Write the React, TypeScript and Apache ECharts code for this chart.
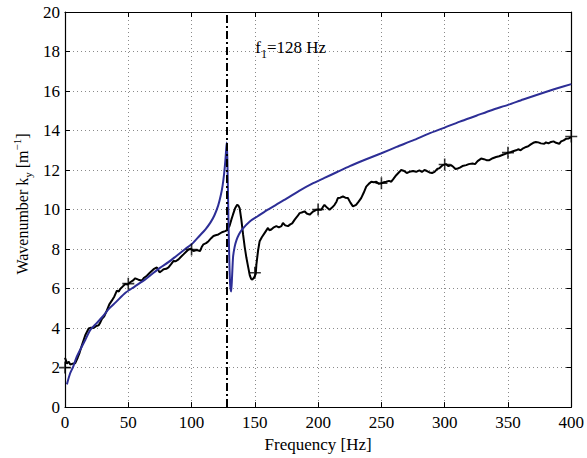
import React, { useEffect, useRef } from "react";
import * as echarts from "echarts";

// Theoretical wavenumber (blue)
const freqTheory = [1.5, 4, 6.5, 9, 12, 16, 20, 25, 30, 35, 40, 48, 55, 62, 68, 75, 82, 88, 95, 101, 106, 111, 115, 118, 121, 123, 124.5, 125.7, 126.6, 127.3, 127.8, 128.3, 129, 129.8, 130.5, 131.3, 132, 132.8, 134, 135.5, 137.5, 140, 146, 152, 159, 167, 175, 185, 195, 205, 215, 225, 237, 250, 262, 275, 287, 300, 312, 325, 337, 350, 362, 375, 387, 400];
const kTheory = [1.15, 1.7, 2.05, 2.5, 2.9, 3.4, 3.9, 4.25, 4.6, 5.0, 5.3, 5.8, 6.1, 6.4, 6.7, 7.05, 7.35, 7.65, 8.0, 8.3, 8.65, 9.0, 9.35, 9.7, 10.2, 10.7, 11.2, 11.8, 12.4, 13.0, 13.4, 12.5, 10.0, 7.5, 6.2, 5.85, 6.6, 7.6, 8.1, 8.45, 8.75, 9.0, 9.4, 9.65, 9.95, 10.25, 10.55, 10.95, 11.3, 11.6, 11.9, 12.2, 12.52, 12.85, 13.17, 13.5, 13.83, 14.15, 14.45, 14.75, 15.03, 15.3, 15.57, 15.85, 16.1, 16.35];

// Measured wavenumber (black)
const freqMeas = [0, 0.8, 1.6, 3, 4.2, 6, 8, 10, 11.5, 13.4, 16, 18.7, 20.5, 22.6, 24.5, 26.6, 28, 29.2, 31, 33.1, 35, 37.1, 39, 41, 42.5, 43.6, 45.5, 47.6, 49.5, 51.5, 53.5, 55.5, 58, 60.8, 62.5, 64.7, 67, 70, 72.6, 74.7, 76.5, 77.9, 80, 81.8, 84, 85.8, 87.5, 89.7, 91.5, 93.6, 95.5, 97.6, 99.5, 101.5, 104, 106.7, 108, 109.4, 111.5, 113.4, 115.5, 117.3, 119, 121.2, 124, 126.5, 128, 129, 130, 131.5, 132.7, 134.3, 136, 137, 138, 139.3, 140.7, 142, 143.3, 144.7, 146, 147, 148, 149.3, 150.7, 151.2, 152.5, 153.8, 155.5, 157.8, 160.4, 161.5, 163, 165, 167, 169, 171, 172.2, 174, 176.2, 178, 179.5, 181.5, 183.5, 185.4, 187, 189.3, 191, 193.3, 196, 198.6, 200.5, 202.5, 204, 205, 207, 209, 211, 213, 214.5, 215.6, 217.5, 219.6, 221.5, 223.5, 225.5, 227.5, 230, 232, 234, 236, 238, 240, 242, 244, 246, 248, 250, 252, 253.8, 256, 257.8, 259.5, 261.7, 264.3, 265.6, 268, 270, 272.2, 275, 277.5, 280, 282, 284, 286, 288, 290, 292, 294, 296, 298.5, 301, 303, 305, 307, 308.5, 310.3, 312, 314, 317, 319, 322, 324, 326, 328.8, 331, 333, 335.3, 338, 340.6, 343, 345, 348.5, 350, 352, 354, 356.4, 358, 360, 362, 364.3, 366, 368, 370, 372, 374, 376, 378.7, 380, 382, 384, 386, 388, 390.5, 392, 394, 395.8, 398, 400];
const kMeas = [2.5, 2.35, 2.2, 2.3, 2.15, 2.2, 2.22, 2.5, 2.75, 3.14, 3.64, 3.98, 4.02, 4.0, 4.1, 4.14, 4.3, 4.47, 4.6, 4.9, 5.2, 5.4, 5.6, 5.9, 5.85, 5.98, 6.1, 6.23, 6.2, 6.32, 6.4, 6.52, 6.45, 6.4, 6.55, 6.65, 6.8, 6.98, 7.07, 6.82, 6.9, 6.98, 7.0, 7.07, 7.25, 7.4, 7.38, 7.48, 7.6, 7.73, 7.85, 7.98, 8.02, 7.9, 7.95, 7.9, 8.1, 8.24, 8.3, 8.4, 8.55, 8.66, 8.7, 8.74, 8.85, 8.91, 8.95, 9.07, 9.17, 9.5, 9.74, 10.05, 10.24, 10.2, 10.07, 9.5, 8.74, 8.1, 7.57, 7.1, 6.67, 6.5, 6.45, 6.55, 6.73, 7.2, 7.9, 8.4, 8.6, 8.82, 9.07, 8.95, 8.99, 9.1, 9.16, 9.1, 9.16, 9.32, 9.2, 9.16, 9.25, 9.3, 9.49, 9.65, 9.82, 9.85, 9.91, 9.8, 9.74, 9.9, 9.99, 10.0, 9.99, 10.15, 10.24, 10.1, 9.99, 10.1, 10.24, 10.4, 10.58, 10.6, 10.66, 10.6, 10.58, 10.35, 10.16, 10.24, 10.4, 10.58, 10.85, 11.16, 11.3, 11.41, 11.38, 11.41, 11.3, 11.33, 11.38, 11.41, 11.45, 11.41, 11.55, 11.74, 11.91, 12.0, 11.95, 11.85, 11.91, 11.95, 11.91, 11.98, 11.9, 12.0, 11.95, 11.88, 11.85, 11.91, 12.05, 12.1, 12.25, 12.3, 12.2, 12.25, 12.15, 12.05, 12.08, 12.12, 12.2, 12.25, 12.3, 12.33, 12.3, 12.45, 12.58, 12.55, 12.5, 12.5, 12.6, 12.66, 12.7, 12.75, 12.83, 12.88, 12.9, 12.95, 13.0, 13.05, 13.0, 13.1, 13.17, 13.2, 13.3, 13.38, 13.42, 13.4, 13.35, 13.33, 13.4, 13.35, 13.42, 13.45, 13.38, 13.33, 13.45, 13.5, 13.58, 13.6, 13.67];

// "+" markers on the measured curve
const markerFreq = [0, 50, 100, 150, 200, 250, 300, 350, 400];
const markerK = [2.0, 6.25, 7.98, 6.8, 10.0, 11.33, 12.28, 12.88, 13.7];

// Resonance line
const resonanceFreq = 128;
const xTicks = { min: 0, max: 400, interval: 50 };
const yTicks = { min: 0, max: 20, interval: 2 };

const FONT = "'Liberation Serif', 'Times New Roman', serif";

export default function App() {
  const ref = useRef<HTMLDivElement>(null);
  useEffect(() => {
    if (!ref.current) return;
    const chart = echarts.init(ref.current, undefined, { renderer: "svg" });
    const axisCommon = {
      axisLine: { show: true, onZero: false, lineStyle: { color: "#000", width: 1.2 } },
      axisTick: { show: true, inside: true, length: 5, lineStyle: { color: "#000", width: 1 } },
    };
    const splitLine = { show: true, lineStyle: { color: "#8a8a8a", width: 1, type: [1, 3] } };
    const option: any = {
      animation: false,
      backgroundColor: "#fff",
      grid: { left: 65, right: 15, top: 12, bottom: 47, containLabel: false },
      xAxis: [
        {
          type: "value",
          position: "bottom",
          ...xTicks,
          ...axisCommon,
          splitLine,
          axisLabel: { color: "#000", fontFamily: FONT, fontSize: 17, margin: 7 },
          name: "Frequency [Hz]",
          nameLocation: "middle",
          nameGap: 21,
          nameTextStyle: { color: "#000", fontFamily: FONT, fontSize: 17, verticalAlign: "top" },
        },
        {
          type: "value",
          position: "top",
          ...xTicks,
          ...axisCommon,
          splitLine: { show: false },
          axisLabel: { show: false },
        },
      ],
      yAxis: [
        {
          type: "value",
          position: "left",
          ...yTicks,
          ...axisCommon,
          splitLine,
          axisLabel: { color: "#000", fontFamily: FONT, fontSize: 17, margin: 5 },
        },
        {
          type: "value",
          position: "right",
          ...yTicks,
          ...axisCommon,
          splitLine: { show: false },
          axisLabel: { show: false },
        },
      ],
      graphic: [
        {
          type: "text",
          x: 22,
          y: 204,
          rotation: Math.PI / 2,
          style: {
            text: "{m|Wavenumber k}{s|y}{m| [m}{p|−1}{m|]}",
            align: "center",
            verticalAlign: "middle",
            fill: "#000",
            rich: {
              m: { fontFamily: FONT, fontSize: 16, lineHeight: 22, verticalAlign: "middle", fill: "#000" },
              s: { fontFamily: FONT, fontSize: 11, verticalAlign: "bottom", fill: "#000" },
              p: { fontFamily: FONT, fontSize: 11, verticalAlign: "top", fill: "#000" },
            },
          },
        },
      ],
      series: [
        {
          type: "line",
          name: "measured",
          data: freqMeas.map((f, i) => [f, kMeas[i]]),
          showSymbol: false,
          symbol: "none",
          lineStyle: { color: "#000", width: 2 },
          z: 3,
        },
        {
          type: "line",
          name: "theory",
          data: freqTheory.map((f, i) => [f, kTheory[i]]),
          showSymbol: false,
          symbol: "none",
          smooth: 0.25,
          lineStyle: { color: "#2d2e96", width: 2 },
          z: 4,
        },
        {
          type: "line",
          name: "resonance",
          data: [
            [resonanceFreq, yTicks.min],
            [resonanceFreq, yTicks.max],
          ],
          symbol: "none",
          lineStyle: { color: "#000", width: 2, type: [8, 3, 2, 3] },
          z: 5,
          markPoint: {
            symbol: "circle",
            symbolSize: 1,
            itemStyle: { color: "rgba(0,0,0,0)" },
            data: [{ coord: [150, 18.2] }],
            label: {
              show: true,
              position: "right",
              distance: 0,
              formatter: "{f|f}{s|1}{f|=128 Hz}",
              rich: {
                f: { fontFamily: FONT, fontSize: 17, lineHeight: 24, verticalAlign: "middle", color: "#000" },
                s: { fontFamily: FONT, fontSize: 12, verticalAlign: "bottom", color: "#000" },
              },
            },
          },
        },
        {
          type: "scatter",
          name: "markers",
          data: markerFreq.map((f, i) => [f, markerK[i]]),
          symbol: "path://M0,5 L10,5 M5,0 L5,10",
          symbolSize: 12,
          itemStyle: { color: "none", borderColor: "#000", borderWidth: 1.6 },
          z: 6,
        },
      ],
    };
    chart.setOption(option);
    return () => chart.dispose();
  }, []);
  return (
    <div
      ref={ref}
      style={{ position: "absolute", left: 0, top: 0, width: 587, height: 458, background: "#fff" }}
    />
  );
}
